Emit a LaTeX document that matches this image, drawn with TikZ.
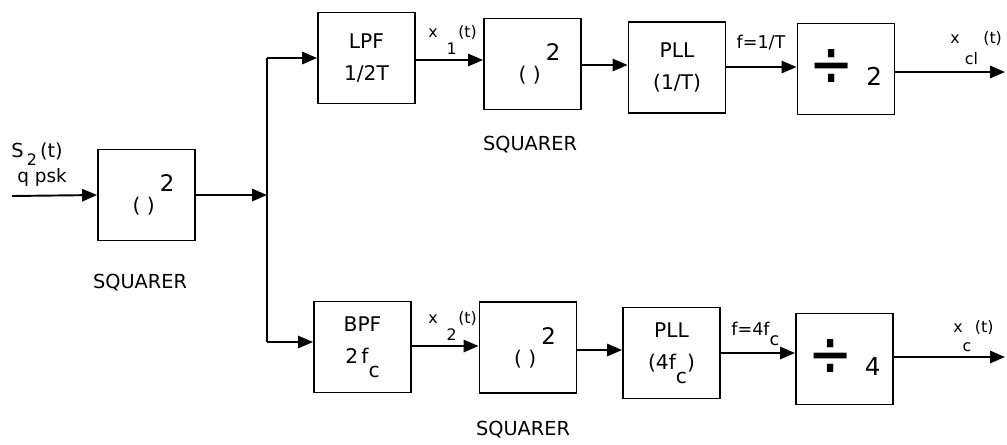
\documentclass[tikz,border=0pt]{standalone}
\usepackage{fontspec}
\usepackage{graphicx}
\setmainfont{DejaVu Sans}
\usetikzlibrary{arrows.meta}
\newcommand{\lo}[2][9pt]{\raisebox{-#1}{#2}}
\newcommand{\sqtxt}{\hspace{8pt}( )\hspace{3pt}\raisebox{12pt}{\fontsize{13}{13}\selectfont 2}}
\newcommand{\divtxt}[1]{\scalebox{1}[1.3]{\fontsize{30}{30}\selectfont ÷}\hspace{7pt}\raisebox{1.5pt}{\fontsize{14}{14}\selectfont #1}}

\begin{document}
\begin{tikzpicture}[x=0.02cm,y=-0.02cm,
    blk/.style={draw,line width=1.1pt,minimum width=1.94cm,minimum height=1.82cm,inner sep=0pt,align=center,font=\fontsize{11.5}{18}\selectfont},
    sig/.style={line width=1.1pt,-{Triangle[length=8.5pt,width=7pt]}},
    wire/.style={line width=1.1pt},
    lbl/.style={inner sep=0pt,font=\fontsize{9}{10}\selectfont},
    capt/.style={inner sep=0pt,font=\fontsize{11}{12}\selectfont}]
\useasboundingbox (0,0) rectangle (1007,444);

% blocks
\node[blk] (sqA) at (146.5,195) {\sqtxt};
\node[blk] (lpf) at (366.5,58) {LPF\\1/2T};
\node[blk] (sqB) at (532.5,64) {\sqtxt};
\node[blk] (pllA) at (677,67.5) {PLL\\(1/T)};
\node[blk] (divA) at (846,69) {\divtxt{2}};
\node[blk] (bpf) at (362.5,347) {BPF\\2\,f\lo[8pt]{c}};
\node[blk] (sqC) at (528,347.5) {\sqtxt};
\node[blk] (pllB) at (671.5,353) {PLL\\(4f\lo[8pt]{c})};
\node[blk] (divB) at (844.5,359) {\divtxt{4}};

% captions
\node[capt] (capA) at (140,283) {SQUARER};
\node[capt] (capB) at (530,145) {SQUARER};
\node[capt] (capC) at (523,430) {SQUARER};

% signal labels
\node[inner sep=0pt,font=\fontsize{11}{12}\selectfont,anchor=base west] (sin) at (11,157) {S\,\lo[5pt]{\fontsize{9}{9}\selectfont 2}\,(t)};
\node[inner sep=0pt,font=\fontsize{10.5}{12}\selectfont,anchor=base west] (qpsk) at (17,182) {q psk};
\node[lbl,anchor=base west] (xone) at (428,37) {x\hspace{5pt}\lo[10pt]{1}\hspace{1pt}(t)};
\node[lbl,anchor=base west] (xtwo) at (428,323) {x\hspace{5pt}\lo[10pt]{2}\hspace{1pt}(t)};
\node[lbl,font=\fontsize{10}{10}\selectfont] (fA) at (761,43) {f=1/T};
\node[lbl,anchor=base west,font=\fontsize{10}{10}\selectfont] (fB) at (731,335) {f=4f\lo[6pt]{c}};
\node[lbl,anchor=base west] (xcl) at (950,43) {x\hspace{3pt}\lo[12pt]{cl}\hspace{3pt}(t)};
\node[lbl,anchor=base west] (xc) at (953,332) {x\lo[11pt]{c}\hspace{2pt}(t)};

% connectors
\coordinate (in) at (12,196);
\coordinate (ttop) at (267,58);
\coordinate (tbot) at (267,342);
\coordinate (outA) at (1005,72);
\coordinate (outB) at (1005,357);
\draw[sig] (in) -- (sqA.west);
\draw[sig] (sqA.east) -- (sqA.east -| ttop);
\draw[wire] (ttop) -- (tbot);
\draw[sig] (ttop) -- (lpf.west);
\draw[sig] (tbot) -- (tbot -| bpf.west);
\draw[sig] (lpf.east |- 0,60) -- (sqB.west |- 0,60);
\draw[sig] (sqB.east |- 0,65) -- (pllA.west |- 0,65);
\draw[sig] (pllA.east |- 0,67) -- (divA.west |- 0,67);
\draw[sig] (divA.east |- outA) -- (outA);
\draw[sig] (bpf.east |- 0,346) -- (sqC.west |- 0,346);
\draw[sig] (sqC.east |- 0,350) -- (pllB.west |- 0,350);
\draw[sig] (pllB.east |- 0,353) -- (divB.west |- 0,353);
\draw[sig] (divB.east |- outB) -- (outB);
\end{tikzpicture}
\end{document}
